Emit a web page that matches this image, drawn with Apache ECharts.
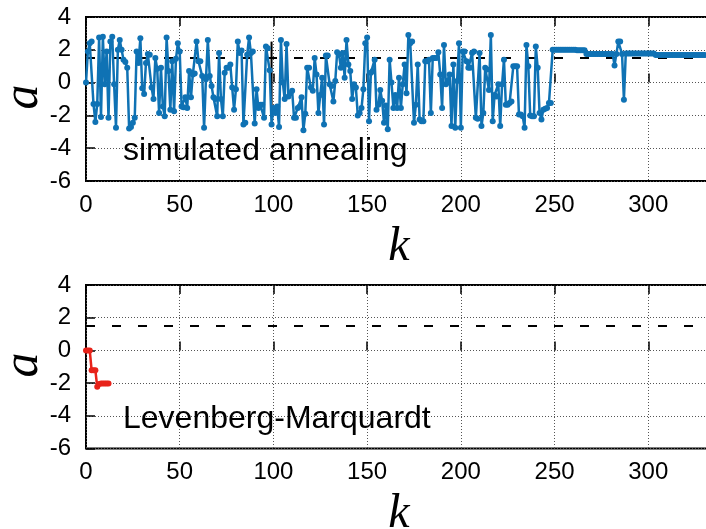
<!DOCTYPE html>
<html>
<head>
<meta charset="utf-8">
<script src="https://cdn.jsdelivr.net/npm/echarts@6/dist/echarts.min.js"></script>
<style>html,body{margin:0;padding:0;background:#fff;}#c{width:706px;height:529px;}</style>
</head>
<body>
<div id="c"></div>
<script>
// ---- data ----
const xTicks = [0, 50, 100, 150, 200, 250, 300];
const yTicks = [-6, -4, -2, 0, 2, 4];
const trueValue = 1.5;
// simulated annealing iterates, k = 0,1,2,...
const saPart1 = [0.0, 1.9, 2.4, 2.5, -1.3, -2.4, -1.3, 2.75, -2.1, 2.8, -0.1, 1.9, -2.15, 2.5, 2.8, -0.1, -2.75, 2.0, 2.6, 2.0, 1.4, 1.25, 0.9, -2.8, -2.7, -2.45, -2.15, 1.9, 1.2, 2.7, -0.35, -0.7, 1.2, 1.75, 1.7, -0.3, -1.0, 1.5, 0.85, -1.85, 0.9, -1.45, -2.05, 2.75, 0.7, -1.65, 1.3, -1.75, 1.45, 2.4];
const saPart2 = [1.9, -1.45, -1.5, -0.9, -1.55, 0.7, -0.9, 0.5, 0.55, 2.5, 1.3, 1.3, 0.4, -2.75, 0.2, 2.6, 0.4, -0.2, -0.9, -1.0, -2.05, 1.8, -1.0, -2.05, 0.6, 0.9, 0.9, 1.1, -0.3, -1.65, -0.4, 2.5, 1.8, 1.95, -2.55, -2.45, 1.7, 2.75, 1.8, 1.9, -2.5, -0.4, -1.55, -1.35, -1.35, -2.15, 2.2, 2.1, 0.75, -2.55];
const saPart3 = [-1.55, -1.85, -1.45, -2.7, 2.6, 0.0, -1.0, 2.35, -0.85, -0.65, -0.5, -2.15, -2.15, -1.55, -1.45, -0.9, -2.9, -1.9, 0.9, 0.9, -0.3, -0.5, 1.5, 0.5, -1.85, -0.75, 0.3, -2.55, 1.65, 1.65, -0.1, -0.2, -1.15, 0.1, 1.85, 1.7, 0.9, 1.8, 0.3, 2.6, 1.1, 0.7, -1.0, -0.1, -0.3, -2.0, -1.85, -1.55, -0.4, 2.4];
const saPart4 = [2.75, -2.35, 0.6, 0.7, 1.4, -1.65, -1.35, -0.45, -1.1, -2.45, -1.4, -2.85, 1.4, 0.0, -1.55, -0.75, -1.55, 0.3, -1.55, -0.1, 1.1, -0.65, 2.9, 2.4, 2.5, -2.45, -1.35, 1.1, -2.25, -2.35, -2.35, 1.3, 1.3, 1.4, -1.85, 1.5, 1.5, 1.5, 1.85, 0.5, -1.55, 2.3, -0.1, 0.0, 0.5, -2.65, 1.1, -2.75, 0.1, 2.4];
const saPart5 = [-2.75, 1.9, 1.9, 1.3, 0.9, 0.9, 1.8, 1.9, -2.15, -2.2, 1.8, -2.65, -1.85, 0.9, 0.8, -0.45, 2.9, -2.35, -0.75, -0.85, -0.1, -2.65, -0.1, 1.4, -1.35, -1.35, -1.25, -1.15, 1.0, 1.0, 1.0, -1.95, -1.95, -2.05, -2.75, 2.3, 1.0, -2.0, -2.05, -2.05, 2.2, 0.9, -1.85, -2.25, -1.65, -1.6, -1.55, -1.25, -1.25];
const saPart6 = [2.0, 2.0, 2.0, 2.0, 2.0, 2.0, 2.0, 2.0, 2.0, 2.0, 2.0, 2.0, 2.0, 1.97, 1.97, 1.97, 1.97, 1.97, 1.75, 1.75, 1.75, 1.75, 1.75, 1.75, 1.75, 1.75, 1.75, 1.75, 1.75, 1.75, 1.75, 1.75, 1.75, 1.05, 1.75, 2.5, 2.5, 1.75, -1.05, 1.78, 1.78, 1.78, 1.78, 1.78, 1.78, 1.78, 1.78, 1.78, 1.78, 1.78, 1.78, 1.78, 1.78, 1.78, 1.78, 1.68, 1.68, 1.68, 1.68, 1.68, 1.68, 1.68, 1.68, 1.68, 1.68, 1.68, 1.68, 1.68, 1.68, 1.68, 1.68, 1.68, 1.68, 1.68, 1.68, 1.68, 1.68, 1.68, 1.68, 1.68, 1.68, 1.68];
const saValues = [].concat(saPart1, saPart2, saPart3, saPart4, saPart5, saPart6);
// Levenberg-Marquardt iterates
const lmK = [0, 1, 2, 3, 4, 5, 6, 7, 8, 9, 10, 11, 12];
const lmValues = [0, 0, 0, -1.22, -1.22, -1.22, -2.23, -2.05, -2.02, -2.02, -2.02, -2.02, -2.02];
// black vertical mark in upper panel
const markK = [99, 99];
const markA = [2.5, -1.5];
const labelTop = 'simulated annealing';
const labelBottom = 'Levenberg-Marquardt';
const yName = 'a';
const xName = 'k';

// ---- chart ----
const FONT = 'Liberation Sans';
const SERIF = 'Liberation Serif';
const XMAX = 334;
const grids = [
  {left: 86, top: 17, width: 626, height: 164},
  {left: 86, top: 285, width: 626, height: 163.5}
];
function xAx(gi, top) {
  return {
    type: 'value', gridIndex: gi, min: 0, max: XMAX, interval: 50,
    position: top ? 'top' : 'bottom',
    name: top ? '' : xName, nameLocation: 'middle', nameGap: 42,
    nameTextStyle: {fontFamily: SERIF, fontStyle: 'italic', fontSize: 48, color: '#000'},
    axisLine: {show: false},
    axisTick: {show: true, inside: true, length: 9, lineStyle: {color: '#000', width: 1.5}},
    axisLabel: {show: !top, showMaxLabel: false, margin: 12, fontFamily: FONT, fontSize: 24, color: '#000'},
    splitLine: {show: !top, lineStyle: {color: '#555', width: 1, type: [1, 2]}}
  };
}
function yAx(gi) {
  return {
    type: 'value', gridIndex: gi, min: -6, max: 4, interval: 2,
    axisLine: {show: false},
    axisTick: {show: true, inside: true, length: 9, lineStyle: {color: '#000', width: 1.5}},
    axisLabel: {margin: 15, fontFamily: FONT, fontSize: 24, color: '#000'},
    splitLine: {show: true, lineStyle: {color: '#555', width: 1, type: [1, 2]}}
  };
}
function yNameText(cy) {
  return {type: 'text', x: 24, y: cy, rotation: Math.PI / 2,
    style: {text: yName, font: 'italic 50px "Liberation Serif"', fill: '#000', align: 'center', verticalAlign: 'middle'}};
}
const dashStyle = {color: '#000', width: 2, type: [9, 17]};
const option = {
  animation: false,
  backgroundColor: '#fff',
  grid: grids.map(g => Object.assign({show: true, borderColor: '#000', borderWidth: 2, backgroundColor: 'transparent', containLabel: false, outerBoundsMode: 'none'}, g)),
  xAxis: [xAx(0, false), xAx(1, false), xAx(0, true), xAx(1, true)],
  yAxis: [yAx(0), yAx(1)],
  graphic: [yNameText(97), yNameText(365)],
  title: [
    {text: labelTop, left: 118, top: 130, textStyle: {fontFamily: FONT, fontSize: 32, fontWeight: 'normal', color: '#000'}},
    {text: labelBottom, left: 118, top: 398, textStyle: {fontFamily: FONT, fontSize: 32, fontWeight: 'normal', color: '#000'}}
  ],
  series: [
    {type: 'line', xAxisIndex: 0, yAxisIndex: 0, data: [[0, trueValue], [XMAX, trueValue]], symbol: 'none', lineStyle: dashStyle, z: 1},
    {type: 'line', xAxisIndex: 1, yAxisIndex: 1, data: [[0, trueValue], [XMAX, trueValue]], symbol: 'none', lineStyle: dashStyle, z: 1},
    {type: 'line', xAxisIndex: 0, yAxisIndex: 0, data: markK.map((k, i) => [k, markA[i]]), symbol: 'none', lineStyle: {color: '#000', width: 2}, z: 1},
    {type: 'line', xAxisIndex: 0, yAxisIndex: 0, data: saValues.map((v, i) => [i, v]),
     symbol: 'circle', symbolSize: 6, showSymbol: true, showAllSymbol: true,
     itemStyle: {color: '#0f72b4'}, lineStyle: {color: '#0f72b4', width: 2.5}, z: 3},
    {type: 'line', xAxisIndex: 1, yAxisIndex: 1, data: lmK.map((k, i) => [k, lmValues[i]]),
     symbol: 'circle', symbolSize: 6, showAllSymbol: true,
     itemStyle: {color: '#e8231a'}, lineStyle: {color: '#e8231a', width: 2.5}, z: 3}
  ]
};
const chart = echarts.init(document.getElementById('c'), null, {renderer: 'canvas'});
chart.setOption(option);
</script>
</body>
</html>
